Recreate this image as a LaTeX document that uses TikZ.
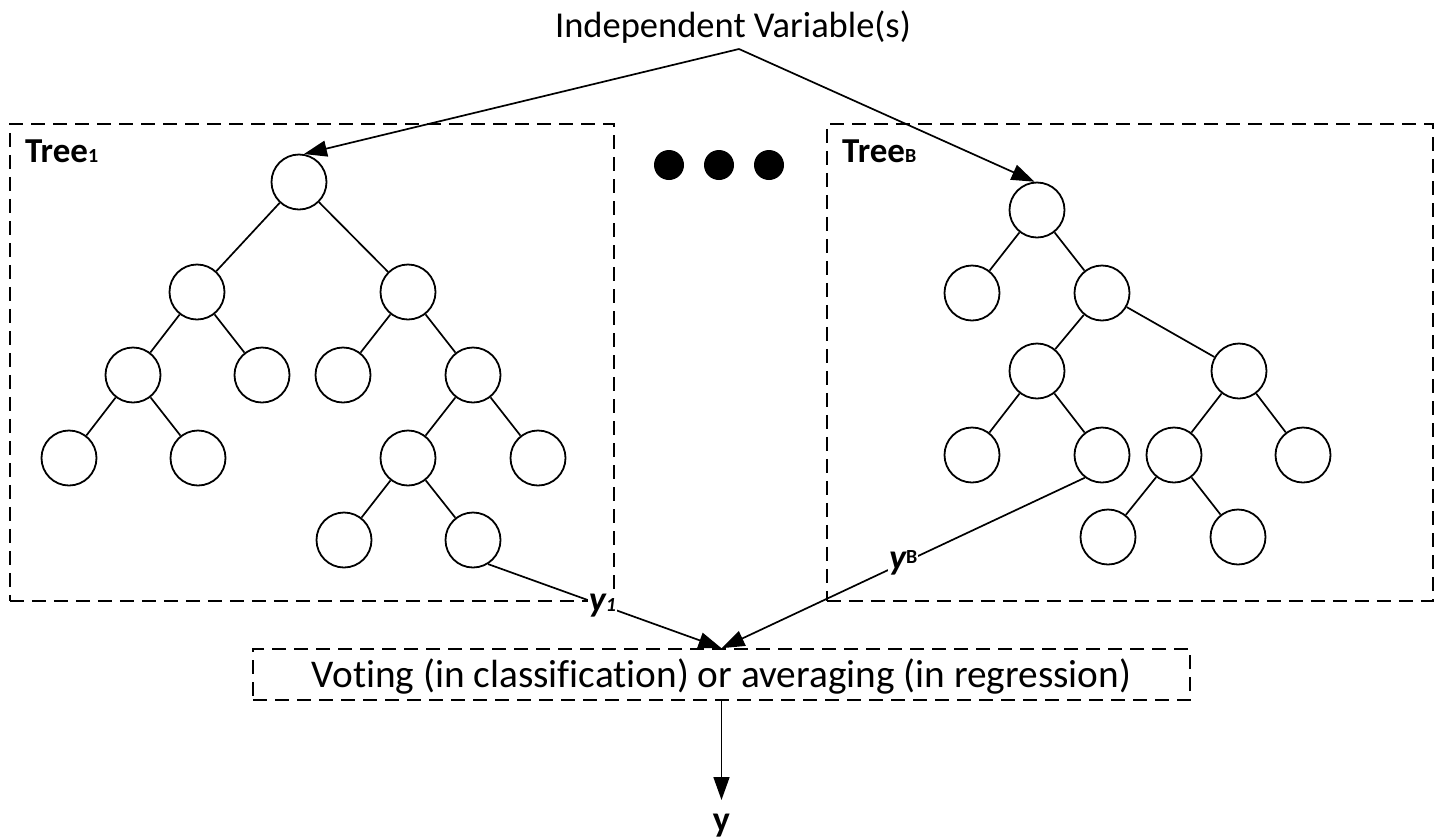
\documentclass[tikz,border=0pt]{standalone}
\usepackage{fontspec}
\setmainfont[Ligatures=NoCommon]{Carlito}
\usetikzlibrary{arrows.meta}
\begin{document}
\begin{tikzpicture}[x=1pt,y=-1pt,
  tn/.style={circle,draw,line width=1.8pt,minimum size=55pt,inner sep=0pt},
  edge/.style={line width=1.7pt},
  dbox/.style={draw,line width=1.6pt,dash pattern=on 14pt off 8pt,inner sep=0pt},
  arr/.style={line width=1.7pt,-{Triangle[length=23pt,width=16pt]}},
  lbl/.style={font=\fontsize{36.5}{40}\selectfont},
  vlbl/.style={font=\fontsize{39.3}{42}\selectfont},
  tlbl/.style={font=\fontsize{35}{40}\selectfont\bfseries},
  dot/.style={circle,fill=black,minimum size=30pt,inner sep=0pt},
  ylbl/.style={fill=white,inner sep=1pt,font=\fontsize{36}{40}\selectfont\bfseries\itshape}]
\useasboundingbox (0,0) rectangle (1439,839);

% boxes
\node[dbox,anchor=north west,minimum width=604pt,minimum height=477pt] (box1) at (9,123) {};
\node[dbox,anchor=north west,minimum width=606pt,minimum height=477pt] (boxB) at (826,123) {};
\node[dbox,minimum width=937pt,minimum height=51pt] (vote) at (721.5,674.5) {};
\node[vlbl,anchor=base,inner sep=0pt] (votetxt) at (721.5,687) {Voting (in classification) or averaging (in regression)};

% labels
\node[lbl,anchor=base,inner sep=0pt] (iv) at (733,37) {Independent Variable(s)};
\coordinate (apex) at (739,49);
\node[tlbl,anchor=base west,inner sep=0pt] (t1) at (25,162) {Tree{\fontsize{20}{20}\selectfont 1}};
\node[tlbl,anchor=base west,inner sep=0pt] (tB) at (842,162) {Tree{\fontsize{20}{20}\selectfont B}};

% dots
\node[dot] (d1) at (669,165) {};
\node[dot] (d2) at (719,165) {};
\node[dot] (d3) at (769,165) {};

% Tree 1
\node[tn] (a0) at (299,182) {};
\node[tn] (a1) at (197,292) {};
\node[tn] (a2) at (408,292) {};
\node[tn] (a11) at (133,375) {};
\node[tn] (a12) at (262,375) {};
\node[tn] (a21) at (343,375) {};
\node[tn] (a22) at (473,375) {};
\node[tn] (a111) at (69,458) {};
\node[tn] (a112) at (198,458) {};
\node[tn] (a221) at (408,458) {};
\node[tn] (a222) at (538,458) {};
\node[tn] (a2211) at (344,540) {};
\node[tn] (a2212) at (473,540) {};
\draw[edge] (a0) -- (a1);
\draw[edge] (a0) -- (a2);
\draw[edge] (a1) -- (a11);
\draw[edge] (a1) -- (a12);
\draw[edge] (a2) -- (a21);
\draw[edge] (a2) -- (a22);
\draw[edge] (a11) -- (a111);
\draw[edge] (a11) -- (a112);
\draw[edge] (a22) -- (a221);
\draw[edge] (a22) -- (a222);
\draw[edge] (a221) -- (a2211);
\draw[edge] (a221) -- (a2212);

% Tree B
\node[tn] (b0) at (1037,210) {};
\node[tn] (b1) at (972,293) {};
\node[tn] (b2) at (1102,293) {};
\node[tn] (b21) at (1037,371) {};
\node[tn] (b22) at (1239,371) {};
\node[tn] (b211) at (972,455) {};
\node[tn] (b212) at (1102,455) {};
\node[tn] (b221) at (1174,455) {};
\node[tn] (b222) at (1303,455) {};
\node[tn] (b2211) at (1108,537) {};
\node[tn] (b2212) at (1238,537) {};
\draw[edge] (b0) -- (b1);
\draw[edge] (b0) -- (b2);
\draw[edge] (b2) -- (b21);
\draw[edge] (b2) -- (b22);
\draw[edge] (b21) -- (b211);
\draw[edge] (b21) -- (b212);
\draw[edge] (b22) -- (b221);
\draw[edge] (b22) -- (b222);
\draw[edge] (b221) -- (b2211);
\draw[edge] (b221) -- (b2212);

% input arrows
\draw[arr] (apex) -- (a0.80);
\draw[arr] (apex) -- (b0.95);

% output arrows
\draw[arr] (a2212.-58) -- node[ylbl,pos=0.49] (y1) {y{\fontsize{20}{20}\selectfont 1}} (vote.north);
\draw[arr] (b212.-127) -- node[ylbl,pos=0.5] (yB) {y\raisebox{0.35ex}{\fontsize{20}{20}\selectfont\upshape B}} (vote.north);

% final output
\node[tlbl,font=\fontsize{36}{40}\selectfont\bfseries,anchor=base,inner sep=0pt] (yout) at (721.5,831) {y};
\coordinate (ytip) at (721.5,800);
\draw[arr] (vote.south) -- (ytip);
\end{tikzpicture}
\end{document}
